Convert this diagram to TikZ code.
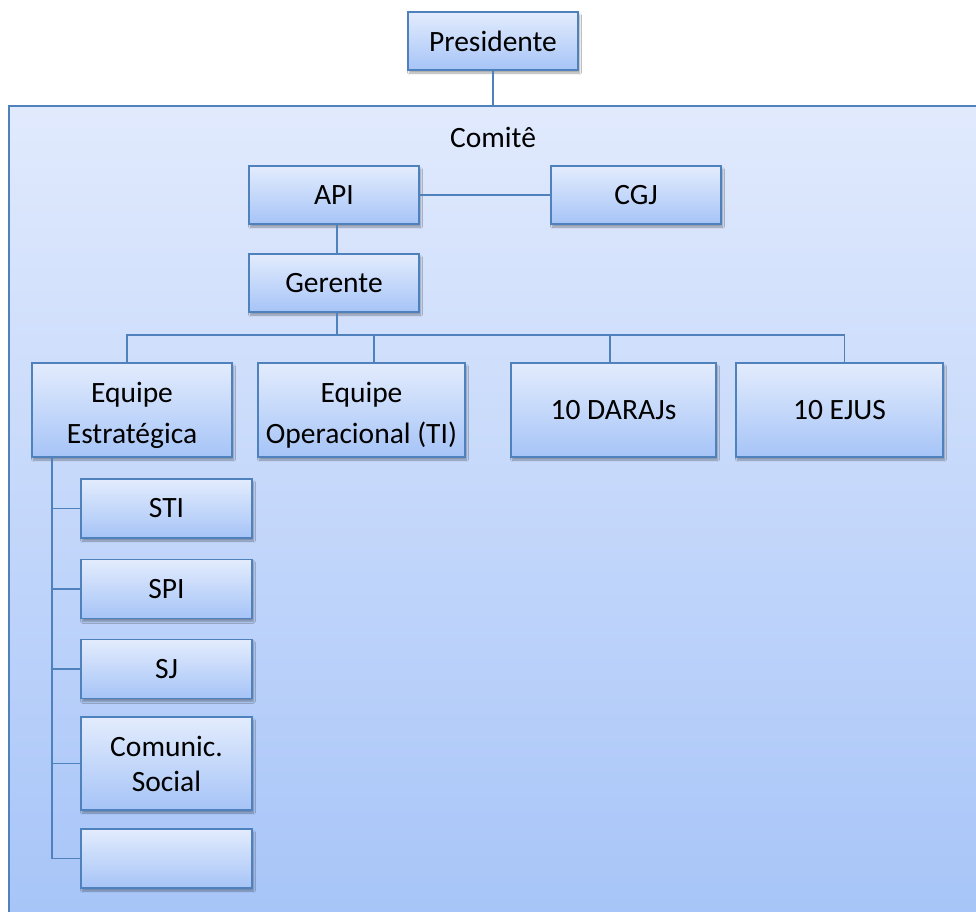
\documentclass[tikz,border=0pt]{standalone}
\usepackage{fontspec}
\setmainfont{Carlito}
\usetikzlibrary{shadows.blur}
\definecolor{bord}{RGB}{79,129,189}
\definecolor{topc}{RGB}{227,236,253}
\definecolor{botc}{RGB}{166,196,247}
\definecolor{ctop}{RGB}{225,234,253}
\definecolor{cbot}{RGB}{166,196,248}
\newcommand{\twolines}[3]{\raisebox{#3}[0pt][0pt]{\begin{tabular}{@{}c@{}}#1\\#2\end{tabular}}}
\begin{document}
\begin{tikzpicture}[x=1pt,y=-1pt,
  txt/.style={font=\fontsize{29.5}{41}\selectfont, align=center, inner sep=0pt},
  box/.style={txt, draw=bord, line width=1.6pt, top color=topc, bottom color=botc,
    minimum width=170pt, minimum height=58pt,
    blur shadow={shadow xshift=1.5pt, shadow yshift=-3pt, shadow blur steps=6, shadow opacity=35}},
  container/.style={draw=bord, line width=2.6pt, top color=ctop, bottom color=cbot, inner sep=0pt},
  link/.style={draw=bord, line width=1.6pt}]
\useasboundingbox (0,0) rectangle (976,911);
\clip (0,0) rectangle (976,911);
\fill[white] (0,0) rectangle (976,911);
% container
\node[container, minimum width=990pt, minimum height=824pt] (comite) at (504,518) {};
\node[txt] (comitelbl) at (493,137) {Comitê};
% top
\node[box] (pres) at (493,41) {Presidente};
\node[box] (api) at (334,195) {API};
\node[box] (cgj) at (636,195) {CGJ};
\node[box] (ger) at (334,283) {Gerente};
% second row
\node[box, minimum width=200pt, minimum height=94pt] (es) at (132,410) {\twolines{Equipe}{Estratégica}{-11.4pt}};
\node[box, minimum width=207pt, minimum height=94pt] (op) at (361.5,410) {\twolines{Equipe}{Operacional (TI)}{-11.4pt}};
\node[box, minimum width=205pt, minimum height=94pt] (da) at (613.5,410) {10 DARAJs};
\node[box, minimum width=207pt, minimum height=94pt] (ej) at (839.5,410) {10 EJUS};
% sub boxes
\node[box, minimum width=171pt, minimum height=59pt] (sti) at (166.5,508.5) {STI};
\node[box, minimum width=171pt, minimum height=59pt] (spi) at (166.5,589) {SPI};
\node[box, minimum width=171pt, minimum height=59pt] (sj) at (166.5,669) {SJ};
\node[box, minimum width=171pt, minimum height=93pt, font=\fontsize{29.5}{35}\selectfont] (com) at (166.5,763.5) {\twolines{Comunic.}{Social}{-9.4pt}};
\node[box, minimum width=171pt, minimum height=59pt] (emp) at (166.5,858.5) {};
% connectors
\draw[link] (pres.south) -- (pres.south |- comite.north);
\draw[link] (api.east) -- (cgj.west);
\draw[link] ([xshift=3pt]api.south) -- ([xshift=3pt]ger.north);
\coordinate (busy) at (0,335);
\draw[link] ([xshift=3pt]ger.south) -- ([xshift=3pt]ger.south |- busy);
\draw[link] ([xshift=-5pt]es.north) -- ([xshift=-5pt]es.north |- busy) -- ([xshift=5pt]ej.north |- busy) -- ([xshift=5pt]ej.north);
\draw[link] ([xshift=12.5pt]op.north) -- ([xshift=12.5pt]op.north |- busy);
\draw[link] ([xshift=-3.5pt]da.north) -- ([xshift=-3.5pt]da.north |- busy);
\coordinate (trunk) at ([xshift=21pt]es.south west);
\draw[link] (trunk) |- (emp.west);
\draw[link] (trunk) |- (sti.west);
\draw[link] (trunk) |- (spi.west);
\draw[link] (trunk) |- (sj.west);
\draw[link] (trunk) |- (com.west);
\end{tikzpicture}
\end{document}
